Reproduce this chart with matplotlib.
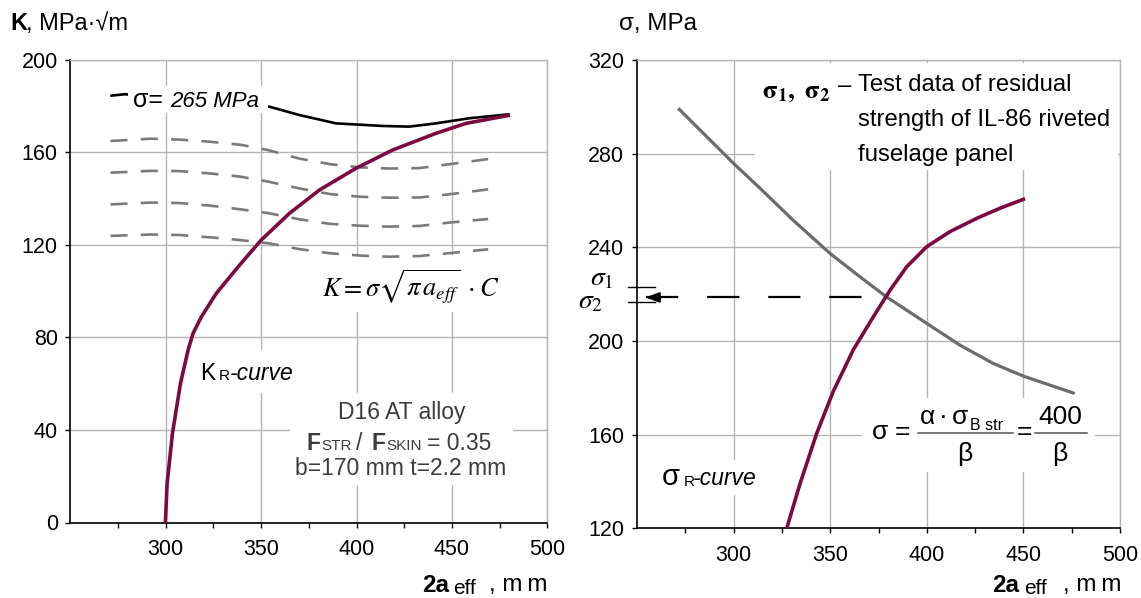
import matplotlib
matplotlib.use("Agg")
import matplotlib.pyplot as plt
from matplotlib.patches import Rectangle
from matplotlib.lines import Line2D

# ---- values ----
# left panel: K (MPa*sqrt(m)) against 2a_eff (mm)
kr_a = [299.8, 300.7, 303.5, 307.7, 311.7, 314.3, 318.7, 326.5, 338.7, 350, 364.9,
        380.5, 399.7, 418.9, 441.6, 457.3, 479.5]
kr_k = [0, 16.9, 38.5, 60.1, 74.5, 81.7, 88.9, 99, 111.2, 122, 133.6,
        143.6, 153, 160.9, 168.1, 172.4, 175.8]

s265_a = [271.6, 278.6, 354.4, 370.1, 389.3, 413.6, 427.6, 441.5, 459, 479.5]
s265_k = [184.4, 185.0, 179.6, 176.0, 172.4, 171.3, 171.0, 172.4, 174.6, 176.3]

dash_a = [271, 292, 307, 323, 339, 354, 370, 386, 402, 417, 433, 448, 469]
dash_k1 = [164.8, 165.8, 165.4, 164.5, 163.2, 160.8, 157.2, 154.8, 153.4, 152.9, 153.1, 154.7, 157.0]
dash_k2 = [151.1, 151.9, 151.8, 150.8, 149.4, 147.2, 144.3, 141.9, 140.7, 140.3, 140.4, 141.7, 143.9]
dash_k3 = [137.4, 138.2, 138.0, 136.9, 135.3, 133.6, 131.0, 129.0, 128.2, 127.8, 128.1, 129.5, 131.1]
dash_k4 = [123.8, 124.4, 124.2, 123.2, 122.0, 120.6, 118.1, 116.3, 115.3, 114.8, 115.1, 116.3, 118.0]

# right panel: sigma (MPa) against 2a_eff (mm)
sr_a = [327.5, 334.4, 343, 351.6, 362, 372.3, 381, 389.6, 400, 412, 425.9, 437.9, 450]
sr_s = [120, 139.1, 160.5, 178.5, 196.3, 210.3, 221.7, 231.7, 240.3, 246.7, 252.4, 256.7, 260.5]

beta_a = [271.9, 299.9, 313.7, 330.9, 349.9, 365.4, 379.2, 400, 417.2, 434.4, 450, 475.8]
beta_s = [298.9, 275.9, 265.2, 251.5, 237.4, 227.4, 218.8, 207.5, 198.2, 190.4, 185, 177.8]

sigma1 = 222.9
sigma2 = 216.5
sigma_cross = 218.6
a_cross = 366.5
a_arrow = 254.4

x_major = [300, 350, 400, 450, 500]
x_minor = [275, 325, 375, 425, 475]
k_ticks = [0, 40, 80, 120, 160, 200]
s_ticks = [120, 160, 200, 240, 280, 320]

SANS = ["Liberation Sans", "DejaVu Sans"]
plt.rcParams["font.family"] = SANS
plt.rcParams["mathtext.fontset"] = "stix"

MAROON = "#7d0a3e"
GRID = "#b4b4b4"

W, H = 1141, 598
fig = plt.figure(figsize=(W / 100, H / 100), dpi=100)


def ftext(x, y, s, **kw):
    # place text by pixel position in the picture
    kw.setdefault("va", "center")
    return fig.text(x / W, 1 - y / H, s, **kw)


def wbox(ax, x0, y0, x1, y1, z=1.2):
    ax.add_patch(Rectangle((x0 / W, 1 - y1 / H), (x1 - x0) / W, (y1 - y0) / H,
                           transform=fig.transFigure, facecolor="white",
                           edgecolor="none", zorder=z))


def setup(ax, ylim, yticks):
    ax.set_xlim(250, 500)
    ax.set_ylim(*ylim)
    ax.set_xticks(x_major)
    ax.set_xticks(x_minor, minor=True)
    ax.set_yticks(yticks)
    ax.grid(True, which="major", color=GRID, lw=1)
    ax.set_axisbelow(True)
    for s in ["top", "right"]:
        ax.spines[s].set_color(GRID)
        ax.spines[s].set_linewidth(1)
    for s in ["left", "bottom"]:
        ax.spines[s].set_linewidth(1.2)
    ax.tick_params(which="both", direction="out", length=3.6, width=1, labelsize=15.5)
    ax.tick_params(axis="x", pad=8.5)
    ax.tick_params(axis="y", pad=5.5)


# ================= left panel =================
ax1 = fig.add_axes([70.4 / W, 1 - 522.5 / H, (547.3 - 70.4) / W, (522.5 - 59.5) / H])
setup(ax1, (0, 200), k_ticks)

ax1.plot(kr_a, kr_k, color=MAROON, lw=2.6, zorder=4)
ax1.plot(s265_a, s265_k, color="black", lw=1.9, zorder=2)
for k in [dash_k1, dash_k2, dash_k3, dash_k4]:
    ax1.plot(dash_a, k, color="#7a7a7a", lw=1.9, dashes=(6.5, 5), zorder=3)

wbox(ax1, 128, 86, 268, 113, z=2.5)     # sigma = 265 label
wbox(ax1, 196, 350, 294, 393)           # K_R-curve label
wbox(ax1, 290, 393, 513, 485)           # alloy note
wbox(ax1, 268, 255, 500, 312)           # K formula

ftext(132.5, 107, "σ=", fontsize=18, ha="left", va="baseline")
ftext(170, 107, "265 MPa", fontsize=16, style="italic", ha="left", va="baseline")

ftext(200.5, 380, "K", fontsize=16.5, ha="left", va="baseline")
ftext(219, 380, "R", fontsize=11, ha="left", va="baseline")
ftext(229.5, 380, "-curve", fontsize=16.5, style="italic", ha="left", va="baseline")

ftext(411, 286.7, r"$K=\sigma\sqrt{\pi\,a_{eff}}\;\cdot C$", fontsize=19, ha="center")

grey_txt = "#3c3c3c"
ftext(401.7, 412.7, "D16 AT alloy", fontsize=16.5, color=grey_txt, ha="center")
ftext(306.7, 449.5, "F", fontsize=16.5, weight="bold", color=grey_txt, ha="left", va="baseline")
ftext(321.5, 449.5, "STR", fontsize=11, color=grey_txt, ha="left", va="baseline")
ftext(356, 449.5, "/", fontsize=16.5, color=grey_txt, ha="left", va="baseline")
ftext(371.5, 449.5, "F", fontsize=16.5, weight="bold", color=grey_txt, ha="left", va="baseline")
ftext(386.5, 449.5, "SKIN", fontsize=11, color=grey_txt, ha="left", va="baseline")
ftext(427, 449.5, "= 0.35", fontsize=16.5, color=grey_txt, ha="left", va="baseline")
ftext(400.5, 468.3, "b=170 mm t=2.2 mm", fontsize=16.5, color=grey_txt, ha="center")

ftext(10.7, 24, "K", fontsize=17, weight="bold", ha="left")
ftext(26.5, 24, ", MPa·√m", fontsize=17, ha="left")

ftext(421.7, 591.5, "2a", fontsize=17.5, weight="bold", ha="left", va="baseline")
ftext(453, 593.5, "eff", fontsize=15, ha="left", va="baseline")
ftext(547.3, 591.5, ", m\u2009m", fontsize=17.5, ha="right", va="baseline")

# ================= right panel =================
ax2 = fig.add_axes([637 / W, 1 - 528.3 / H, (1120 - 637) / W, (528.3 - 60) / H])
setup(ax2, (120, 320), s_ticks)

ax2.plot(beta_a, beta_s, color="#6b6b6b", lw=2.3, zorder=3)
ax2.plot(sr_a, sr_s, color=MAROON, lw=2.6, zorder=4)

ax2.plot([a_arrow, a_cross], [sigma_cross, sigma_cross], color="black", lw=1.6,
         dashes=(14.5, 13), zorder=5)
ax2.annotate("", xy=(a_arrow, sigma_cross), xytext=(a_arrow + 8, sigma_cross),
             arrowprops=dict(arrowstyle="-|>,head_length=0.8,head_width=0.3",
                             color="black", lw=1.6, shrinkA=0, shrinkB=0), zorder=5)
for s in [sigma1, sigma2]:
    ax2.plot([245.3, 259.3], [s, s], color="black", lw=1, clip_on=False, zorder=5)

wbox(ax2, 755, 63, 1118, 170)     # header note
wbox(ax2, 862, 398, 1095, 472)    # sigma formula
wbox(ax2, 655, 460, 760, 495)     # sigma_R-curve label

ftext(590, 285, r"$\sigma_1$", fontsize=20, ha="left", va="baseline")
ftext(578, 308.3, r"$\sigma_2$", fontsize=20, ha="left", va="baseline")

ftext(761.8, 98, r"$\mathbf{\sigma_1,\ \sigma_2}$", fontsize=19, ha="left", va="baseline")
ftext(838, 86, "–", fontsize=17.2, ha="left")
ftext(858, 85, "Test data of residual", fontsize=17.2, ha="left")
ftext(858, 120, "strength of IL-86 riveted", fontsize=17.2, ha="left")
ftext(858, 155, "fuselage panel", fontsize=17.2, ha="left")

# sigma = alpha*sigma_B str / beta = 400 / beta
ftext(871.5, 432, "σ", fontsize=19, ha="left")
ftext(902.5, 432, "=", fontsize=19, ha="center")
ftext(920, 423.5, "α", fontsize=19, ha="left", va="baseline")
ftext(943.3, 423.5, "·", fontsize=19, ha="center", va="baseline")
ftext(951.5, 423.5, "σ", fontsize=19, ha="left", va="baseline")
ftext(970, 430, "B str", fontsize=11.5, ha="left", va="baseline")
ftext(965, 454, "β", fontsize=19, ha="center")
ftext(1024, 432, "=", fontsize=19, ha="center")
ftext(1060, 423.5, "400", fontsize=19, ha="center", va="baseline")
ftext(1060, 454, "β", fontsize=19, ha="center")
for x0, x1 in [(918, 1013), (1035, 1087)]:
    fig.add_artist(Line2D([x0 / W, x1 / W], [1 - 432.5 / H] * 2, color="#555555", lw=1.1))

ftext(661.5, 485, "σ", fontsize=21, ha="left", va="baseline")
ftext(684, 485.5, "R", fontsize=11, ha="left", va="baseline")
ftext(693, 485, "-curve", fontsize=16.5, style="italic", ha="left", va="baseline")

ftext(619, 24, "σ, MPa", fontsize=17.5, ha="left")

ftext(992.6, 591.5, "2a", fontsize=17.5, weight="bold", ha="left", va="baseline")
ftext(1024, 593.5, "eff", fontsize=15, ha="left", va="baseline")
ftext(1121.7, 591.5, ", m\u2009m", fontsize=17.5, ha="right", va="baseline")

fig.savefig("out.png", dpi=100)
